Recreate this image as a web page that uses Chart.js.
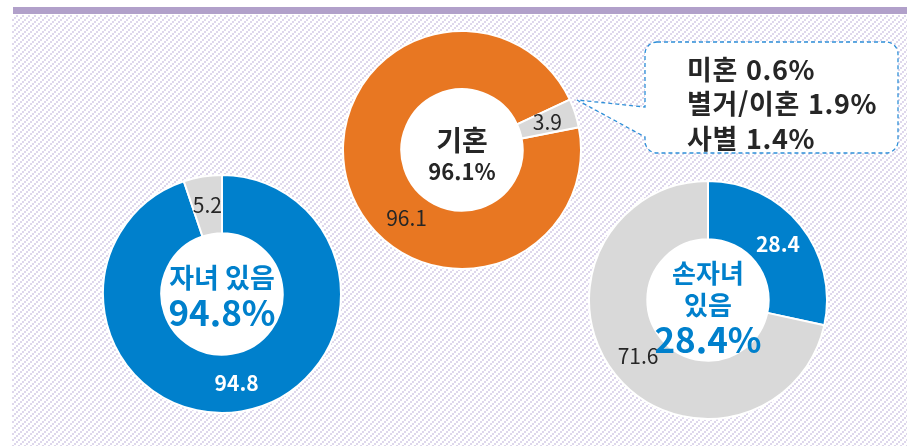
<!DOCTYPE html>
<html lang="ko">
<head>
<meta charset="utf-8">
<title>자녀·혼인·손자녀 현황</title>
<script src="https://cdn.jsdelivr.net/npm/chart.js@4.4.1/dist/chart.umd.min.js"></script>
<style>
  body { margin: 0; background: #fff; }
  #wrap { position: relative; width: 907px; height: 446px; overflow: hidden; background: #fff;
          font-family: "Noto Sans CJK KR", "Noto Sans", sans-serif; }
  #topbar { position: absolute; left: 13px; top: 7px; right: 0; height: 7px; background: #b1a0ca; }
  canvas { position: absolute; }
  #callout { position: absolute; left: 0; top: 0; }
</style>
</head>
<body>
<div id="wrap">
  <div id="topbar"></div>
  <canvas id="hatch" width="895" height="431" style="left:12px;top:15px"></canvas>
  <canvas id="chartChild" width="240" height="240" style="left:102px;top:174px"></canvas>
  <canvas id="chartMarried" width="240" height="240" style="left:342px;top:30px"></canvas>
  <canvas id="chartGrand" width="240" height="240" style="left:588px;top:180px"></canvas>
  <svg id="callout" width="907" height="446"></svg>
</div>
<script>
// Dados (%)
const childLabels = ["자녀 있음", "자녀 없음"];
const childValues = [94.8, 5.2];

const marriedLabels = ["기혼", "미혼·별거/이혼·사별"];
const marriedValues = [96.1, 3.9];

const grandLabels = ["손자녀 있음", "손자녀 없음"];
const grandValues = [28.4, 71.6];

// Texto do centro de cada rosca
const childCenter = ["자녀 있음", "94.8%"];
const marriedCenter = ["기혼", "96.1%"];
const grandCenter = ["손자녀", "있음", "28.4%"];

// Detalhe do balão
const calloutLines = ["미혼 0.6%", "별거/이혼 1.9%", "사별 1.4%"];

const BLUE = "#0080cc";
const ORANGE = "#e87722";
const GRAY = "#d9d9d9";
const DARK = "#262626";
const FONT = '"Noto Sans CJK KR", "Noto Sans", sans-serif';

// Fundo hachurado (linhas diagonais de quadradinhos)
(function drawHatch() {
  const tile = document.createElement("canvas");
  tile.width = 6;
  tile.height = 6;
  const t = tile.getContext("2d");
  t.fillStyle = "#ded7ec";
  t.fillRect(0, 4, 2, 2);
  t.fillRect(2, 2, 2, 2);
  t.fillRect(4, 0, 2, 2);
  const c = document.getElementById("hatch");
  const ctx = c.getContext("2d");
  ctx.fillStyle = ctx.createPattern(tile, "repeat");
  ctx.fillRect(0, 0, c.width, c.height);
})();

// Preenche o furo da rosca de branco (o fundo é hachurado)
const holePlugin = {
  id: "hole",
  beforeDatasetsDraw(chart) {
    const arc = chart.getDatasetMeta(0).data[0];
    if (!arc) return;
    const ctx = chart.ctx;
    ctx.save();
    ctx.beginPath();
    ctx.arc(arc.x, arc.y, arc.innerRadius, 0, Math.PI * 2);
    ctx.fillStyle = "#fff";
    ctx.fill();
    ctx.restore();
  },
};

// Rótulos de valor em cada fatia
const sliceLabels = {
  id: "sliceLabels",
  afterDatasetsDraw(chart, args, opts) {
    const ctx = chart.ctx;
    const values = chart.data.datasets[0].data;
    chart.getDatasetMeta(0).data.forEach((arc, i) => {
      const p = arc.tooltipPosition();
      const shift = (opts.shift && opts.shift[i]) || [0, 0];
      ctx.save();
      ctx.font = opts.fonts[i];
      ctx.fillStyle = opts.colors[i];
      ctx.textAlign = "center";
      ctx.textBaseline = "middle";
      ctx.fillText(values[i].toFixed(1), p.x + shift[0], p.y + shift[1]);
      ctx.restore();
    });
  },
};

// Texto no centro
const centerText = {
  id: "centerText",
  afterDraw(chart, args, opts) {
    const arc = chart.getDatasetMeta(0).data[0];
    if (!arc) return;
    const ctx = chart.ctx;
    opts.lines.forEach((line, i) => {
      ctx.save();
      ctx.font = opts.fonts[i];
      ctx.fillStyle = opts.color;
      ctx.textAlign = "center";
      ctx.textBaseline = "middle";
      ctx.fillText(line, arc.x, arc.y + opts.dy[i]);
      ctx.restore();
    });
  },
};

function drawDonut(id, labels, values, colors, rotation, labelOpts, centerOpts) {
  new Chart(document.getElementById(id), {
    type: "doughnut",
    data: {
      labels: labels,
      datasets: [{ data: values, backgroundColor: colors, borderColor: "#fff", borderWidth: 2 }],
    },
    options: {
      responsive: false,
      animation: false,
      cutout: "51%",
      rotation: rotation,
      layout: { padding: 0 },
      plugins: {
        legend: { display: false },
        tooltip: { enabled: false },
        sliceLabels: labelOpts,
        centerText: centerOpts,
      },
    },
    plugins: [holePlugin, sliceLabels, centerText],
  });
}

drawDonut("chartChild", childLabels, childValues, [BLUE, GRAY], 0,
  { fonts: ["bold 21px " + FONT, "21px " + FONT], colors: ["#fff", DARK] },
  { lines: childCenter, fonts: ["bold 27px " + FONT, "bold 35px " + FONT], color: BLUE, dy: [-16, 19] });

drawDonut("chartMarried", marriedLabels, marriedValues, [ORANGE, GRAY], 79,
  { fonts: ["21px " + FONT, "21px " + FONT], colors: [DARK, DARK], shift: [[30, 40], [0, 0]] },
  { lines: marriedCenter, fonts: ["bold 28px " + FONT, "bold 22px " + FONT], color: DARK, dy: [-10, 22] });

drawDonut("chartGrand", grandLabels, grandValues, [BLUE, GRAY], 0,
  { fonts: ["bold 21px " + FONT, "21px " + FONT], colors: ["#fff", DARK] },
  { lines: grandCenter, fonts: ["bold 26px " + FONT, "bold 26px " + FONT, "bold 35px " + FONT], color: BLUE, dy: [-27, 5, 40] });

// Balão com o detalhe de "미혼·별거/이혼·사별"
const svg = document.getElementById("callout");
svg.innerHTML =
  `<path d="M657 42 H886 A12 12 0 0 1 898 54 V141 A12 12 0 0 1 886 153 H657 A12 12 0 0 1 645 141 V137 L577 100 L645 107 V54 A12 12 0 0 1 657 42 Z"
     fill="#fff" stroke="#2e8fd8" stroke-width="1.3" stroke-dasharray="4 3"/>` +
  calloutLines
    .map((t, i) => `<text x="687" y="${68 + i * 34.5}" dominant-baseline="central" letter-spacing="0.6"
       font-family='${FONT}' font-weight="bold" font-size="27" fill="${DARK}">${t}</text>`)
    .join("");
</script>
</body>
</html>
